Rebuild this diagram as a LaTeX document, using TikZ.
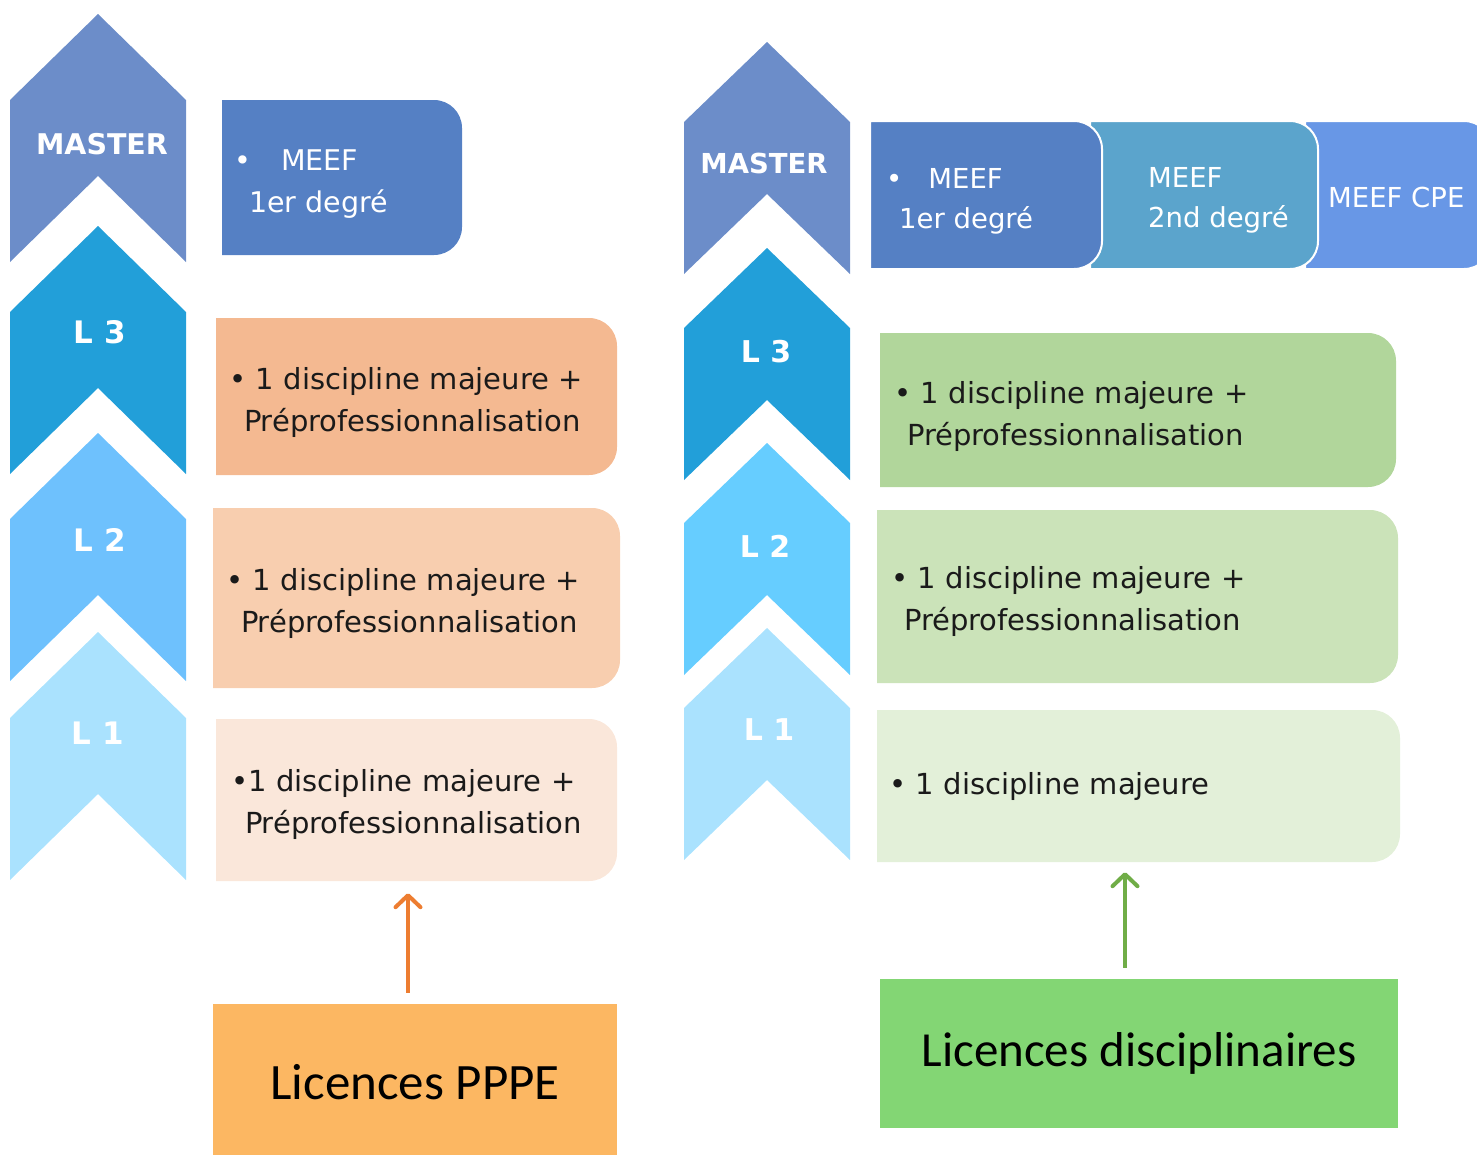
\documentclass[tikz,border=0pt]{standalone}
\usepackage{fontspec}
\setmainfont{DejaVu Sans}
\newfontfamily\calfont{Carlito}
\usetikzlibrary{arrows.meta}
\definecolor{cmaster}{HTML}{6C8DC9}
\definecolor{cl3}{HTML}{229FD9}
\definecolor{cl2a}{HTML}{6EC1FD}
\definecolor{cl2b}{HTML}{66CDFF}
\definecolor{cl1}{HTML}{AAE2FE}
\definecolor{meefa}{HTML}{5580C4}
\definecolor{meefb}{HTML}{5BA4CC}
\definecolor{meefc}{HTML}{6897E6}
\definecolor{or3}{HTML}{F4B991}
\definecolor{or2}{HTML}{F8CEAF}
\definecolor{or1}{HTML}{FAE7DA}
\definecolor{gr3}{HTML}{B1D69B}
\definecolor{gr2}{HTML}{CBE3B9}
\definecolor{gr1}{HTML}{E3F0D9}
\definecolor{pppec}{HTML}{FCB762}
\definecolor{discc}{HTML}{83D674}
\definecolor{arrorange}{HTML}{ED7D31}
\definecolor{arrgreen}{HTML}{70AD47}
\definecolor{txtc}{HTML}{1A1A1A}
% rounded-right box: style, x1, y1, x2, y2
\newcommand\rshape[5]{\path[#1] (#2,#3) -- ({#4-28},#3) .. controls ({#4-12.5},#3) and (#4,{#3+12.5}) .. (#4,{#3+28}) -- (#4,{#5-28}) .. controls (#4,{#5-12.5}) and ({#4-12.5},#5) .. ({#4-28},#5) -- (#2,#5) -- cycle;}
% chevron: colour, cx, y0, half width, tip height, bottom offset
\newcommand\chev[6]{\fill[#1] (#2,#3) -- ({#2+#4},{#3+#5}) -- ({#2+#4},{#3+#6}) -- (#2,{#3+#6-#5}) -- ({#2-#4},{#3+#6}) -- ({#2-#4},{#3+#5}) -- cycle;}
\tikzset{
  chevtxt/.style={text=white, inner sep=0pt, font=\bfseries\fontsize{31}{31}\selectfont},
  mastertxt/.style={text=white, inner sep=0pt, font=\bfseries\fontsize{28.5}{28.5}\selectfont},
  btxt/.style={align=left, inner ysep=0pt, text=txtc, font=\fontsize{29}{41.5}\selectfont},
  mtxt/.style={align=left, inner sep=0pt, text=white, font=\fontsize{27.5}{40}\selectfont},
  arr/.style={line width=4pt, -{Straight Barb[length=12pt,width=25pt,line width=4pt,round]}},
}
\begin{document}
\begin{tikzpicture}[x=1pt,y=-1pt]
\useasboundingbox (0,0) rectangle (1477,1154);
% ---------- left column ----------
\chev{cmaster}{98}{14}{88}{86}{248}
\chev{cl3}{98}{226}{88}{86}{248}
\chev{cl2a}{98}{433}{88}{86}{248}
\chev{cl1}{98}{632}{88}{86}{248}
\node[mastertxt] (lmaster) at (102,144) {MASTER};
\node[chevtxt] (ll3) at (100,332) {L 3};
\node[chevtxt] (ll2) at (100,540) {L 2};
\node[chevtxt] (ll1) at (98,733) {L 1};

\rshape{fill=meefa}{222}{100}{462}{255}
\node[mtxt, font=\fontsize{28.5}{42}\selectfont, anchor=north west] (lmeef) at (234,150)
  {\textbullet\hspace{30pt}MEEF\\\hspace*{15pt}1er degré};

\rshape{fill=or3}{216}{318}{617}{475}
\node[btxt, minimum width=401pt, minimum height=157pt, inner xsep=13pt, text width=375pt] (o3) at (416.5,402.5)
  {\textbullet\ 1 discipline majeure +\\\hspace*{15pt}Préprofessionnalisation};
\rshape{fill=or2}{213}{508}{620}{688}
\node[btxt, minimum width=407pt, minimum height=180pt, inner xsep=13pt, text width=381pt] (o2) at (416.5,603.5)
  {\textbullet\ 1 discipline majeure +\\\hspace*{15pt}Préprofessionnalisation};
\rshape{fill=or1}{216}{719}{617}{881}
\node[btxt, minimum width=401pt, minimum height=162pt, inner xsep=15pt, text width=371pt] (o1) at (416.5,804.5)
  {\textbullet 1 discipline majeure +\\\hspace*{14pt}Préprofessionnalisation};

\node[fill=pppec, minimum width=404pt, minimum height=156pt, inner sep=0pt,
  font=\calfont\fontsize{51}{51}\selectfont] (pppe) at (415,1082) {Licences PPPE};
\draw[arr, draw=arrorange, shorten <=11pt, shorten >=7.5pt]
  ([xshift=-7pt]pppe.north) -- ([xshift=-7pt]pppe.north |- o1.south);

% ---------- right column ----------
\chev{cmaster}{767}{42}{83}{80}{232}
\chev{cl3}{767}{248}{83}{80}{232}
\chev{cl2b}{767}{443}{83}{80}{232}
\chev{cl1}{767}{628}{83}{80}{232}
\node[mastertxt, font=\bfseries\fontsize{27.5}{27.5}\selectfont] (rmaster) at (764,163) {MASTER};
\node[chevtxt, font=\bfseries\fontsize{30}{30}\selectfont] (rl3) at (766,352) {L 3};
\node[chevtxt, font=\bfseries\fontsize{30}{30}\selectfont] (rl2) at (765,546) {L 2};
\node[chevtxt, font=\bfseries\fontsize{30}{30}\selectfont] (rl1) at (769,730) {L 1};

\rshape{fill=meefc, draw=white, line width=2pt}{1305}{121}{1492}{269}
\rshape{fill=meefb, draw=white, line width=2pt}{1090}{121}{1318}{269}
\rshape{fill=meefa, draw=white, line width=2pt}{870}{121}{1102}{269}
\node[mtxt, anchor=west] (r1) at (886,201) {\textbullet\hspace{26pt}MEEF\\\hspace*{13pt}1er degré};
\node[mtxt, anchor=west] (r2) at (1148,200) {MEEF\\2nd degré};
\node[mtxt, anchor=west] (r3) at (1328,197) {MEEF CPE};

\rshape{fill=gr3}{880}{333}{1396}{487}
\node[btxt, minimum width=516pt, minimum height=154pt, inner xsep=14pt, text width=488pt] (g3) at (1138,416.5)
  {\textbullet\ 1 discipline majeure +\\\hspace*{13pt}Préprofessionnalisation};
\rshape{fill=gr2}{877}{510}{1398}{683}
\node[btxt, minimum width=521pt, minimum height=173pt, inner xsep=14pt, text width=493pt] (g2) at (1137.5,601.5)
  {\textbullet\ 1 discipline majeure +\\\hspace*{13pt}Préprofessionnalisation};
\rshape{fill=gr1}{877}{710}{1400}{862}
\node[btxt, minimum width=523pt, minimum height=152pt, inner xsep=12pt, text width=499pt] (g1) at (1138.5,786)
  {\textbullet\ 1 discipline majeure};

\node[fill=discc, minimum width=518pt, minimum height=149pt, inner sep=0pt,
  font=\calfont\fontsize{49}{49}\selectfont] (disc) at (1139,1053.5) {Licences disciplinaires};
\draw[arr, draw=arrgreen, shorten <=11pt, shorten >=10pt]
  ([xshift=-14pt]disc.north) -- ([xshift=-14pt]disc.north |- g1.south);
\end{tikzpicture}
\end{document}
